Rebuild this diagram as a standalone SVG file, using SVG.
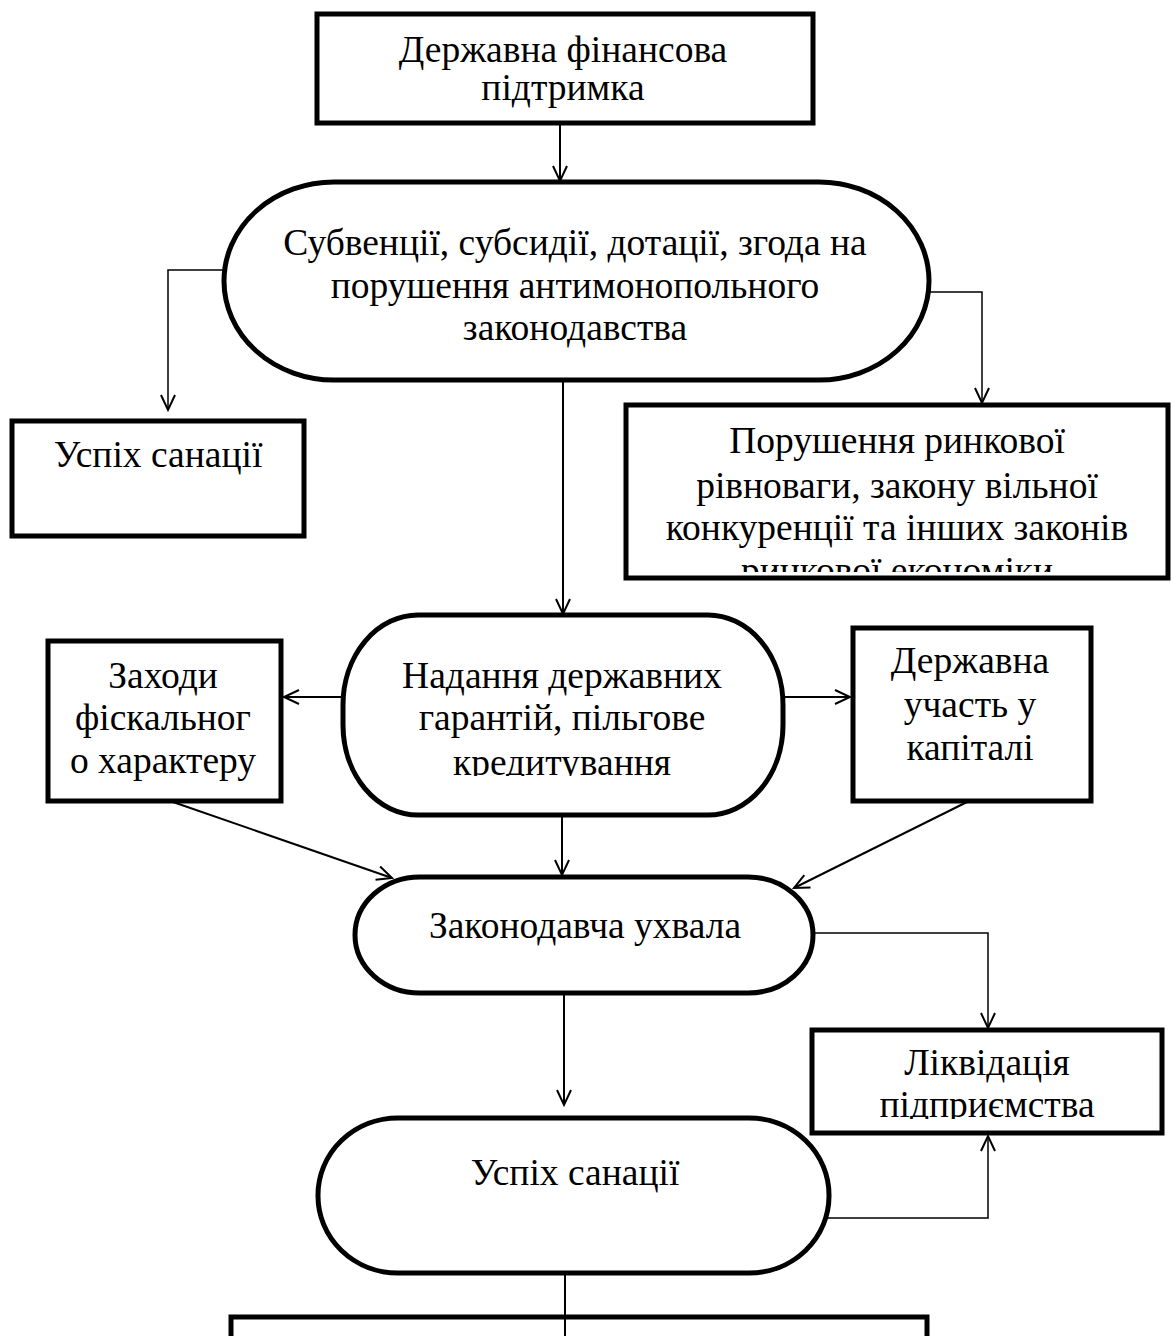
<svg xmlns="http://www.w3.org/2000/svg" width="1171" height="1336" viewBox="0 0 1171 1336">
<style>
.box{fill:#fff;stroke:#000;stroke-width:5}
.t{font-family:"Liberation Serif","Times New Roman",serif;font-size:37.5px;fill:#000;text-anchor:middle}
.c{fill:none;stroke:#000;stroke-width:2}
.c1{fill:none;stroke:#000;stroke-width:1.5}
</style>
<defs>
<marker id="a" markerWidth="20" markerHeight="20" refX="16" refY="8" orient="auto" markerUnits="userSpaceOnUse">
<path d="M1,1 L16,8 L1,15" fill="none" stroke="#000" stroke-width="2"/>
</marker>
<clipPath id="cR"><rect x="628" y="405" width="540" height="167"/></clipPath>
<clipPath id="cS2"><rect x="343" y="615" width="440" height="161"/></clipPath>
<clipPath id="cL"><rect x="812" y="1030" width="350" height="89"/></clipPath>
</defs>
<rect width="1171" height="1336" fill="#fff"/>
<g id="connectors">
<line class="c" x1="560" y1="125" x2="560" y2="181" marker-end="url(#a)"/>
<polyline class="c1" points="224,270 168,270 168,410" marker-end="url(#a)"/>
<polyline class="c1" points="929,292 982,292 982,403" marker-end="url(#a)"/>
<line class="c" x1="563" y1="380" x2="563" y2="614" marker-end="url(#a)"/>
<line class="c" x1="343" y1="697" x2="284" y2="697" marker-end="url(#a)"/>
<line class="c" x1="783" y1="697" x2="850" y2="697" marker-end="url(#a)"/>
<line class="c" x1="173" y1="802" x2="392" y2="878" marker-end="url(#a)"/>
<line class="c" x1="562" y1="815" x2="562" y2="875" marker-end="url(#a)"/>
<line class="c" x1="967" y1="802" x2="794" y2="888" marker-end="url(#a)"/>
<polyline class="c1" points="813,933 988,933 988,1028" marker-end="url(#a)"/>
<line class="c" x1="564" y1="993" x2="564" y2="1105" marker-end="url(#a)"/>
<polyline class="c1" points="828,1218 988,1218 988,1136" marker-end="url(#a)"/>
<line class="c" x1="565" y1="1273" x2="565" y2="1336"/>
</g>
<g id="n1">
<rect class="box" x="317" y="14" width="496" height="109"/>
<text class="t" x="563" y="62">Державна фінансова</text>
<text class="t" x="563" y="100">підтримка</text>
</g>
<g id="n2">
<rect class="box" x="224" y="182" width="705" height="198" rx="110" ry="99"/>
<text class="t" x="575" y="255">Субвенції, субсидії, дотації, згода на</text>
<text class="t" x="575" y="298">порушення антимонопольного</text>
<text class="t" x="575" y="340">законодавства</text>
</g>
<g id="n3">
<rect class="box" x="12" y="421" width="292" height="115"/>
<text class="t" x="158" y="467">Успіх санації</text>
</g>
<g id="n4">
<rect class="box" x="626" y="405" width="542" height="173"/>
<g clip-path="url(#cR)">
<text class="t" x="897" y="453">Порушення ринкової</text>
<text class="t" x="897" y="498">рівноваги, закону вільної</text>
<text class="t" x="897" y="540">конкуренції та інших законів</text>
<text class="t" x="897" y="583">ринкової економіки</text>
</g>
</g>
<g id="n5">
<rect class="box" x="343" y="615" width="440" height="200" rx="75" ry="90"/>
<g clip-path="url(#cS2)">
<text class="t" x="562" y="688">Надання державних</text>
<text class="t" x="562" y="730">гарантій, пільгове</text>
<text class="t" x="562" y="775">кредитування</text>
</g>
</g>
<g id="n6">
<rect class="box" x="48" y="641" width="233" height="160"/>
<text class="t" x="163" y="688">Заходи</text>
<text class="t" x="163" y="730">фіскальног</text>
<text class="t" x="163" y="773">о характеру</text>
</g>
<g id="n7">
<rect class="box" x="853" y="628" width="238" height="173"/>
<text class="t" x="970" y="673">Державна</text>
<text class="t" x="970" y="717">участь у</text>
<text class="t" x="970" y="760">капіталі</text>
</g>
<g id="n8">
<rect class="box" x="355" y="877" width="458" height="116" rx="65" ry="58"/>
<text class="t" x="585" y="938">Законодавча ухвала</text>
</g>
<g id="n9">
<rect class="box" x="812" y="1030" width="350" height="103"/>
<g clip-path="url(#cL)">
<text class="t" x="987" y="1075">Ліквідація</text>
<text class="t" x="987" y="1117">підприємства</text>
</g>
</g>
<g id="n10">
<rect class="box" x="318" y="1118" width="511" height="155" rx="80" ry="77"/>
<text class="t" x="575" y="1185">Успіх санації</text>
</g>
<g id="n11">
<rect class="box" x="231" y="1317" width="696" height="40"/>
</g>
<line class="c" x1="565" y1="1317" x2="565" y2="1336"/>
</svg>
